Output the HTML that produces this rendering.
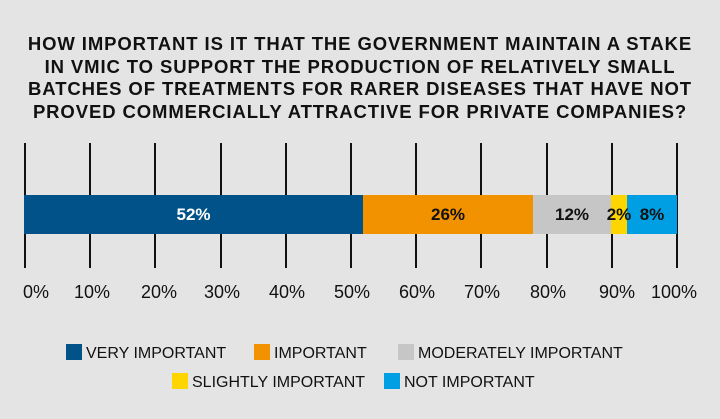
<!DOCTYPE html>
<html><head><style>
body{margin:0;width:720px;height:419px;background:#e4e4e4;font-family:"Liberation Sans",Arial,sans-serif;overflow:hidden;position:relative}
.t{position:absolute;left:0;width:720px;top:33px;text-align:center;font-weight:bold;font-size:18.5px;line-height:22.5px;color:#111;letter-spacing:0.9px}
.g{position:absolute;top:143px;height:125px;width:1.5px;background:#111}
.b{position:absolute;top:195px;height:39px;font-weight:bold;font-size:17px;line-height:39px;text-align:center}
.x{position:absolute;top:282px;font-size:18px;color:#111;width:60px;text-align:center}
.lg{position:absolute;font-size:16px;color:#111;line-height:17px}
.lg span{display:inline-block;width:16px;height:16px;vertical-align:-2px;margin-right:4px}
</style></head><body>
<div class="t">HOW IMPORTANT IS IT THAT THE GOVERNMENT MAINTAIN A STAKE<br>IN VMIC TO SUPPORT THE PRODUCTION OF RELATIVELY SMALL<br>BATCHES OF TREATMENTS FOR RARER DISEASES THAT HAVE NOT<br>PROVED COMMERCIALLY ATTRACTIVE FOR PRIVATE COMPANIES?</div>
<div class="g" style="left:24px"></div><div class="g" style="left:89px"></div><div class="g" style="left:154px"></div><div class="g" style="left:220px"></div><div class="g" style="left:285px"></div><div class="g" style="left:350px"></div><div class="g" style="left:415px"></div><div class="g" style="left:480px"></div><div class="g" style="left:546px"></div><div class="g" style="left:611px"></div><div class="g" style="left:676px"></div>
<div class="b" style="left:24px;width:339px;background:#005288;color:#fff">52%</div>
<div class="b" style="left:363px;width:170px;background:#f39200;color:#111">26%</div>
<div class="b" style="left:533px;width:78px;background:#c6c6c6;color:#111">12%</div>
<div class="b" style="left:611px;width:16px;background:#ffd500"></div>
<div class="b" style="left:627px;width:50px;background:#009fe3"></div>
<div class="b" style="left:605px;width:28px;color:#111">2%</div>
<div class="b" style="left:632px;width:40px;color:#111">8%</div>
<div class="x" style="left:6px">0%</div><div class="x" style="left:62px">10%</div><div class="x" style="left:129px">20%</div><div class="x" style="left:192px">30%</div><div class="x" style="left:257px">40%</div><div class="x" style="left:322px">50%</div><div class="x" style="left:387px">60%</div><div class="x" style="left:452px">70%</div><div class="x" style="left:518px">80%</div><div class="x" style="left:587px">90%</div><div class="x" style="left:642px;width:64px">100%</div>
<div class="lg" style="left:66px;top:344px"><span style="background:#005288"></span>VERY IMPORTANT</div>
<div class="lg" style="left:254px;top:344px"><span style="background:#f39200"></span>IMPORTANT</div>
<div class="lg" style="left:398px;top:344px"><span style="background:#c6c6c6"></span>MODERATELY IMPORTANT</div>
<div class="lg" style="left:172px;top:373px"><span style="background:#ffd500"></span>SLIGHTLY IMPORTANT</div>
<div class="lg" style="left:384px;top:373px"><span style="background:#009fe3"></span>NOT IMPORTANT</div>
</body></html>
